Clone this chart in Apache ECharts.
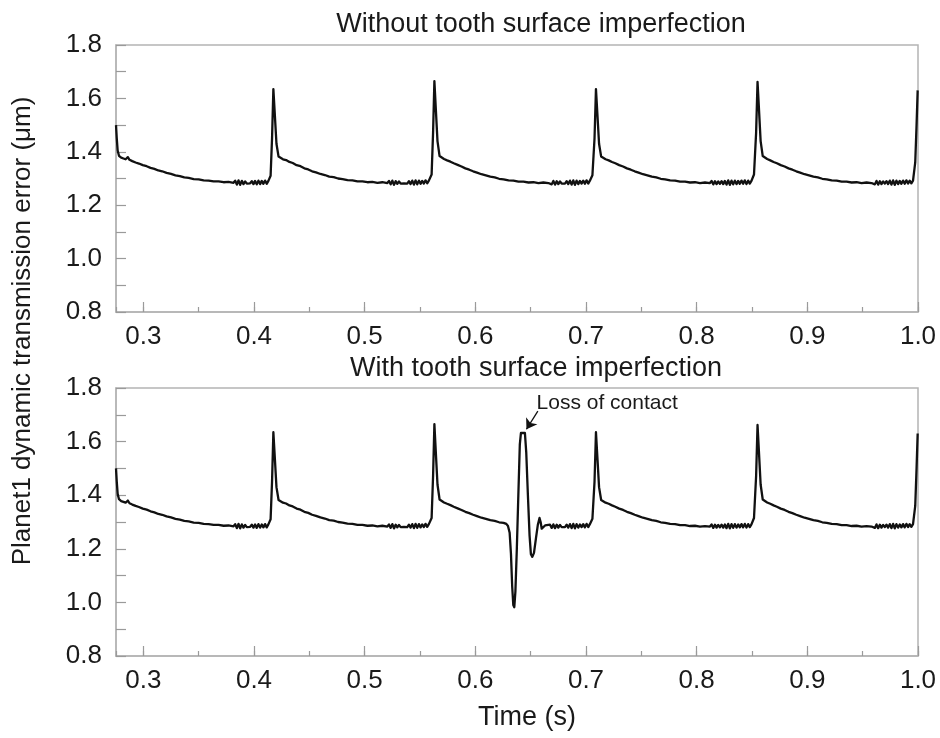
<!DOCTYPE html>
<html>
<head>
<meta charset="utf-8">
<script src="https://cdn.jsdelivr.net/npm/echarts@6/dist/echarts.min.js"></script>
<style>
  html, body { margin: 0; padding: 0; background: #fff; }
  #chart { width: 940px; height: 738px; }
</style>
</head>
<body>
<div id="chart"></div>
<script>
// Planet1 dynamic transmission error, time in s, error in µm.
// Each mesh cycle: a sharp spike, a decaying tail, then a rippled plateau.

const xRange = [0.2753, 1.0];
const yTicks = ['0.8', '1.0', '1.2', '1.4', '1.6', '1.8'];
const titles = ['Without tooth surface imperfection', 'With tooth surface imperfection'];

const lead = [
  [0.2753,1.500],[0.2760,1.450],[0.2768,1.405],[0.2780,1.385],[0.2800,1.378],[0.2820,1.375],
  [0.2840,1.372],[0.2860,1.380],[0.2875,1.370],[0.2900,1.365],[0.2930,1.360],[0.2960,1.356],
  [0.2995,1.350],[0.3030,1.346],[0.3065,1.340],[0.3100,1.336],[0.3135,1.330],[0.3170,1.327],
  [0.3210,1.321],[0.3250,1.317],[0.3290,1.312],[0.3330,1.309],[0.3370,1.304],[0.3410,1.302],
  [0.3455,1.298],[0.3500,1.297],[0.3545,1.293],[0.3590,1.292],[0.3635,1.289],[0.3680,1.289],
  [0.3725,1.286],[0.3770,1.287],[0.3815,1.284],
  [0.3830,1.292],[0.3845,1.277],[0.3860,1.293],[0.3875,1.276],[0.3890,1.291],[0.3905,1.279],
  [0.3920,1.289],[0.3935,1.281],[0.3950,1.288],[0.3965,1.282],[0.3980,1.290],[0.3995,1.279],
  [0.4010,1.291],[0.4025,1.278],[0.4040,1.292],[0.4055,1.279],[0.4070,1.291],[0.4085,1.280],
  [0.4100,1.292],[0.4115,1.280],[0.4130,1.291],[0.4140,1.290]
];

const cycle1 = [
  [0.4150,1.310],[0.4163,1.450],[0.4175,1.635],[0.4188,1.540],[0.4203,1.430],[0.4222,1.382],
  [0.4240,1.378],[0.4262,1.372],[0.4290,1.369],[0.4320,1.362],[0.4350,1.358],[0.4385,1.350],
  [0.4420,1.346],[0.4455,1.338],[0.4490,1.334],[0.4525,1.327],[0.4560,1.323],[0.4600,1.317],
  [0.4640,1.313],[0.4680,1.307],[0.4720,1.305],[0.4760,1.300],[0.4800,1.298],[0.4845,1.294],
  [0.4890,1.293],[0.4935,1.289],[0.4980,1.289],[0.5025,1.286],[0.5070,1.287],[0.5115,1.284],
  [0.5160,1.286],[0.5205,1.283],
  [0.5220,1.291],[0.5235,1.278],[0.5250,1.292],[0.5265,1.276],[0.5280,1.290],[0.5295,1.280],
  [0.5310,1.289],[0.5325,1.281],[0.5340,1.288],[0.5355,1.282],[0.5370,1.289],[0.5385,1.281],
  [0.5400,1.290],[0.5415,1.279],[0.5430,1.292],[0.5445,1.277],[0.5460,1.293],[0.5475,1.278],
  [0.5490,1.292],[0.5505,1.280],[0.5520,1.291],[0.5535,1.281],[0.5550,1.293],[0.5565,1.282],
  [0.5580,1.292],[0.5590,1.288]
];

const cycle2Decay = [
  [0.5605,1.315],[0.5618,1.470],[0.5630,1.665],[0.5643,1.560],[0.5658,1.440],[0.5677,1.384],
  [0.5695,1.378],[0.5717,1.373],[0.5745,1.368],[0.5775,1.363],[0.5805,1.357],[0.5840,1.351],
  [0.5875,1.345],[0.5910,1.338],[0.5945,1.333],[0.5980,1.327],[0.6015,1.322],[0.6055,1.316],
  [0.6095,1.312],[0.6135,1.307],[0.6175,1.304],[0.6215,1.299],[0.6255,1.297]
];

const cycle2Late = [
  [0.6300,1.293],[0.6345,1.292],[0.6390,1.288],[0.6435,1.288],[0.6480,1.285],[0.6525,1.286],
  [0.6570,1.283],[0.6615,1.285],[0.6660,1.283]
];

// Loss-of-contact event on the damaged tooth
const contactLoss = [
  [0.6280,1.293],[0.6295,1.285],[0.6310,1.260],[0.6322,1.180],[0.6333,1.060],[0.6343,0.990],
  [0.6352,0.982],[0.6362,1.040],[0.6375,1.200],[0.6390,1.420],[0.6402,1.590],[0.6412,1.632],
  [0.6430,1.638],[0.6448,1.632],[0.6460,1.560],[0.6475,1.400],[0.6490,1.250],[0.6502,1.180],
  [0.6515,1.170],[0.6530,1.185],[0.6548,1.240],[0.6565,1.290],[0.6580,1.315],[0.6590,1.300],
  [0.6600,1.275],[0.6615,1.282],[0.6630,1.287],[0.6645,1.284]
];

const cycle2Ripple = [
  [0.6675,1.290],[0.6690,1.278],[0.6705,1.291],[0.6720,1.277],[0.6735,1.290],[0.6750,1.279],
  [0.6765,1.289],[0.6780,1.281],[0.6795,1.288],[0.6810,1.281],[0.6825,1.290],[0.6840,1.279],
  [0.6855,1.292],[0.6870,1.277],[0.6885,1.293],[0.6900,1.276],[0.6915,1.292],[0.6930,1.279],
  [0.6945,1.291],[0.6960,1.281],[0.6975,1.292],[0.6990,1.280],[0.7005,1.293],[0.7020,1.281],
  [0.7035,1.292],[0.7045,1.288]
];

const cycle3 = [
  [0.7058,1.312],[0.7077,1.450],[0.7090,1.635],[0.7103,1.540],[0.7118,1.430],[0.7137,1.382],
  [0.7155,1.377],[0.7177,1.372],[0.7205,1.368],[0.7235,1.362],[0.7265,1.357],[0.7300,1.350],
  [0.7335,1.345],[0.7370,1.338],[0.7405,1.333],[0.7440,1.327],[0.7475,1.322],[0.7515,1.316],
  [0.7555,1.312],[0.7595,1.307],[0.7635,1.304],[0.7675,1.299],[0.7715,1.297],[0.7760,1.293],
  [0.7805,1.292],[0.7850,1.288],[0.7895,1.288],[0.7940,1.285],[0.7985,1.286],[0.8030,1.283],
  [0.8075,1.285],[0.8120,1.283],
  [0.8135,1.291],[0.8150,1.278],[0.8165,1.290],[0.8180,1.279],[0.8195,1.289],[0.8210,1.280],
  [0.8225,1.290],[0.8240,1.279],[0.8255,1.291],[0.8270,1.277],[0.8285,1.293],[0.8300,1.276],
  [0.8315,1.292],[0.8330,1.278],[0.8345,1.292],[0.8360,1.279],[0.8375,1.291],[0.8390,1.280],
  [0.8405,1.292],[0.8420,1.280],[0.8435,1.293],[0.8450,1.279],[0.8465,1.292],[0.8480,1.281],
  [0.8495,1.291],[0.8505,1.289]
];

const cycle4 = [
  [0.8518,1.315],[0.8537,1.470],[0.8550,1.662],[0.8563,1.560],[0.8578,1.440],[0.8597,1.384],
  [0.8615,1.378],[0.8637,1.373],[0.8665,1.368],[0.8695,1.362],[0.8725,1.357],[0.8760,1.350],
  [0.8795,1.345],[0.8830,1.338],[0.8865,1.333],[0.8900,1.327],[0.8935,1.322],[0.8975,1.316],
  [0.9015,1.312],[0.9055,1.307],[0.9095,1.304],[0.9135,1.299],[0.9175,1.297],[0.9220,1.293],
  [0.9265,1.292],[0.9310,1.288],[0.9355,1.288],[0.9400,1.285],[0.9445,1.286],[0.9490,1.283],
  [0.9535,1.285],[0.9580,1.283],
  [0.9595,1.290],[0.9610,1.278],[0.9625,1.291],[0.9640,1.277],[0.9655,1.290],[0.9670,1.279],
  [0.9685,1.289],[0.9700,1.281],[0.9715,1.290],[0.9730,1.279],[0.9745,1.292],[0.9760,1.277],
  [0.9775,1.293],[0.9790,1.276],[0.9805,1.292],[0.9820,1.279],[0.9835,1.291],[0.9850,1.280],
  [0.9865,1.292],[0.9880,1.280],[0.9895,1.293],[0.9910,1.281],[0.9925,1.292],[0.9940,1.282],
  [0.9955,1.292]
];

const tail = [[0.9962,1.296],[0.9975,1.360],[0.9987,1.500],[0.9997,1.630]];

const healthy = [].concat(lead, cycle1, cycle2Decay, cycle2Late, cycle2Ripple, cycle3, cycle4, tail);
const damaged = [].concat(lead, cycle1, cycle2Decay, contactLoss, cycle2Ripple, cycle3, cycle4, tail);

const FONT = 'Liberation Sans, Arial, sans-serif';
const TEXT = '#1a1a1a';
const frameColor = '#b4b4b4';
const tickColor = '#9a9a9a';

const grids = [
  { left: 116, right: 22, top: 45, height: 267, show: true, borderColor: frameColor, borderWidth: 1.5 },
  { left: 116, right: 22, top: 388, height: 268, show: true, borderColor: frameColor, borderWidth: 1.5 }
];

function majorX(i) {
  return {
    type: 'value', gridIndex: i, min: xRange[0], max: xRange[1], splitNumber: 7,
    axisLine: { show: true, onZero: false, lineStyle: { color: frameColor, width: 1.5 } },
    axisTick: { show: true, inside: true, length: 10, lineStyle: { color: tickColor, width: 1.2 } },
    axisLabel: {
      showMinLabel: false, color: TEXT, fontFamily: FONT, fontSize: 26, margin: 12,
      formatter: v => v.toFixed(1)
    },
    splitLine: { show: false }
  };
}
function minorX(i) {
  return {
    type: 'value', gridIndex: i, min: xRange[0], max: xRange[1], splitNumber: 14,
    position: 'bottom',
    axisLine: { show: false },
    axisTick: { show: true, inside: true, length: 5, lineStyle: { color: tickColor, width: 1.2 } },
    axisLabel: { show: false },
    splitLine: { show: false }
  };
}
function yAx(i) {
  return {
    type: 'value', gridIndex: i, min: Number(yTicks[0]), max: Number(yTicks[yTicks.length - 1]), interval: 0.2,
    axisLine: { show: true, lineStyle: { color: frameColor, width: 1.5 } },
    axisTick: { show: true, inside: true, length: 10, lineStyle: { color: tickColor, width: 1.2 } },
    minorTick: { show: true, splitNumber: 2, length: 10, lineStyle: { color: tickColor, width: 1.2 } },
    axisLabel: { color: TEXT, fontFamily: FONT, fontSize: 26, margin: 14, formatter: v => v.toFixed(1) },
    splitLine: { show: false }
  };
}

const lineStyle = { color: '#111', width: 2.3, join: 'round' };

const option = {
  animation: false,
  backgroundColor: '#fff',
  title: [
    { text: titles[0], left: 536, top: 6, textAlign: 'center',
      textStyle: { fontFamily: FONT, fontSize: 27, fontWeight: 'normal', color: TEXT } },
    { text: titles[1], left: 531, top: 350, textAlign: 'center',
      textStyle: { fontFamily: FONT, fontSize: 27, fontWeight: 'normal', color: TEXT } }
  ],
  grid: grids,
  xAxis: [majorX(0), minorX(0), majorX(1), minorX(1)],
  yAxis: [yAx(0), yAx(1)],
  series: [
    { type: 'line', xAxisIndex: 0, yAxisIndex: 0, data: healthy, symbol: 'none', lineStyle, silent: true },
    { type: 'line', xAxisIndex: 2, yAxisIndex: 1, data: damaged, symbol: 'none', lineStyle, silent: true,
      markLine: {
        silent: true, symbol: ['none', 'arrow'], symbolSize: 10,
        lineStyle: { color: '#111', width: 1.3, type: 'solid' }, label: { show: false },
        data: [[{ coord: [0.6565, 1.714] }, { coord: [0.6462, 1.646] }]]
      },
      markPoint: {
        silent: true, symbol: 'circle', symbolSize: 0,
        data: [{ coord: [0.6553, 1.743], value: 'Loss of contact' }],
        label: { show: true, position: 'right', distance: 0, formatter: 'Loss of contact',
          fontFamily: FONT, fontSize: 21, color: TEXT }
      }
    }
  ],
  graphic: [
    { type: 'text', x: 527, y: 718,
      style: { text: 'Time (s)', fontFamily: FONT, fontSize: 27, fill: TEXT, align: 'center', verticalAlign: 'middle' } },
    { type: 'text', x: 23, y: 331, rotation: Math.PI / 2,
      style: { text: 'Planet1 dynamic transmission error (\u03bcm)', fontFamily: FONT, fontSize: 26, fill: TEXT,
        align: 'center', verticalAlign: 'middle' } }
  ]
};

const chart = echarts.init(document.getElementById('chart'), null, { renderer: 'canvas' });
chart.setOption(option);
</script>
</body>
</html>
